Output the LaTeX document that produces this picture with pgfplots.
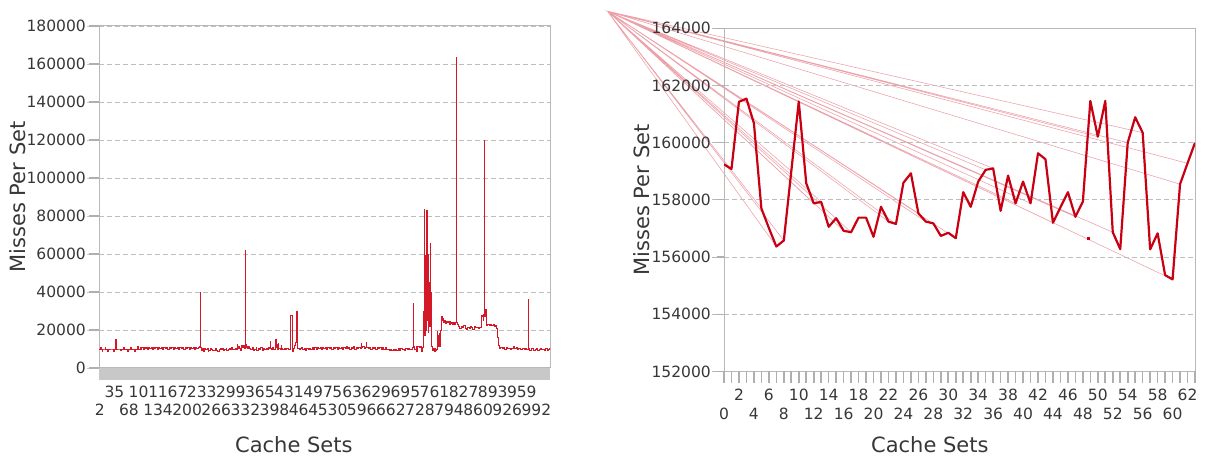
\documentclass[border=0pt]{standalone}
\usepackage{pgfplots}
\pgfplotsset{compat=1.18}
\usepackage{fontspec}
\setmainfont{DejaVu Sans}
\definecolor{txt}{RGB}{55,55,55}
\definecolor{ln}{RGB}{200,0,18}
\definecolor{lnl}{RGB}{212,24,40}
\definecolor{fan}{RGB}{236,160,168}
\definecolor{grd}{RGB}{190,190,190}
\definecolor{axc}{RGB}{185,185,185}
\definecolor{tk}{RGB}{175,175,175}
\definecolor{band}{RGB}{200,200,200}
\newcommand{\U}[1]{\begin{tabular}{@{}c@{}}#1\\\strut\end{tabular}}
\newcommand{\D}[1]{\begin{tabular}{@{}c@{}}\strut\\#1\end{tabular}}
\begin{document}
\begin{tikzpicture}
\useasboundingbox (0pt,0pt) rectangle (1209pt,457pt);
\pgfplotsset{common/.style={scale only axis, anchor=south west,
  /pgf/number format/fixed,
  /pgf/number format/precision=0,
  /pgf/number format/assume math mode=true,
  /pgf/number format/set thousands separator={},
  scaled y ticks=false, ymajorgrids,
  grid style={grd, dash pattern=on 5pt off 3pt, line width=0.8pt},
  axis line style={axc, line width=1pt},
  tick style={axc, line width=0.8pt},
  tick align=outside, major tick length=12pt, minor tick length=12pt,
  xtick pos=bottom, ytick pos=left,
  tick label style={font=\fontsize{15.5}{18.6}\selectfont, txt},
  xticklabel style={anchor=north, inner sep=0pt, yshift=-4pt},
  yticklabel style={anchor=east, inner sep=1pt},
  label style={font=\fontsize{21}{25}\selectfont, txt},
  xlabel={Cache Sets}, ylabel={Misses Per Set}},
  tickhelper/.style={scale only axis, anchor=south west, hide axis, clip=false}}
% ---------------- left panel ----------------
\begin{axis}[common, at={(99pt,89pt)}, width=451pt, height=342pt,
  xmin=0, xmax=1023, ymin=0, ymax=180000,
  tick style={band, line width=0.45pt},
  ytick={0,20000,40000,60000,80000,100000,120000,140000,160000,180000},
  xtick={2,35,68,101,134,167,200,233,266,299,332,365,398,431,464,497,530,563,596,629,662,695,728,761,794,827,860,893,926,959,992},
  xticklabels={\D{2},\U{35},\D{68},\U{101},\D{134},\U{167},\D{200},\U{233},\D{266},\U{299},\D{332},\U{365},\D{398},\U{431},\D{464},\U{497},\D{530},\U{563},\D{596},\U{629},\D{662},\U{695},\D{728},\U{761},\D{794},\U{827},\D{860},\U{893},\D{926},\U{959},\D{992}},
  minor xtick={0,2,...,1022},
  xlabel style={at={(axis description cs:0.432,-0.225)}, anchor=center},
  ylabel style={at={(axis description cs:-0.18,0.5)}, anchor=center}]
\addplot[const plot, lnl, line width=0.75pt] table {
0 10000
4 10700
5 10000
7 9000
8 10000
12 10000
14 10700
15 10000
20 9000
22 10000
30 10000
33 9000
35 10000
37 12000
38 15300
39 13000
40 10000
47 10000
49 9200
51 10000
56 10700
57 10000
65 9000
66 10000
72 11000
73 10000
81 9000
83 10000
88 11200
90 10000
93 10800
95 10000
97 10800
100 10000
102 10800
105 10300
107 10900
110 10000
112 10800
115 10400
118 10800
121 10000
124 10800
126 10300
129 10900
132 10000
135 10800
138 10200
141 10800
144 10000
147 10800
150 10200
153 10900
156 10000
159 10800
162 10200
165 10800
168 10000
171 10800
174 10300
177 10800
180 10000
183 10900
186 10200
189 10800
192 10000
195 10800
198 10300
201 10800
204 10000
207 10800
210 10200
213 10900
216 10000
219 10800
222 10300
225 10800
228 11200
230 40000
231 10700
233 9200
235 10400
237 9000
239 10300
242 9600
245 10500
247 9000
249 9500
252 10300
255 9600
258 9200
261 9500
264 10400
266 9500
269 9000
272 9800
275 10300
277 9600
280 10500
283 9300
285 9600
288 10500
290 9500
293 10000
295 10500
298 9600
301 11000
303 10000
306 9600
309 10500
311 9800
314 12200
315 10300
317 11500
319 10500
321 9500
324 12000
325 10800
327 11800
329 10500
331 62000
332 11000
334 12500
335 11200
337 10300
339 11500
341 10400
344 9600
347 10800
350 9400
353 10000
356 10700
358 9500
361 10400
364 10000
367 10600
370 9500
373 10100
376 9800
379 10400
382 9600
385 11000
387 10200
388 14200
389 10500
391 9600
394 11000
396 10000
399 12500
400 10800
401 15300
402 10600
404 12500
405 10000
407 13000
408 10500
411 9800
413 11800
414 10200
417 9800
420 10300
423 9900
426 10100
429 9900
432 9600
434 27900
438 9000
440 8600
442 10200
444 12000
446 13500
447 20000
448 30000
449 13800
451 10500
454 9800
456 10400
459 10800
462 9600
465 10500
468 9300
471 10200
474 9700
477 10400
480 9900
483 10700
486 10000
489 10800
492 10000
495 10800
498 10100
501 10800
504 10000
507 10900
510 10200
513 10800
516 10000
519 10900
522 10300
525 10800
528 10000
531 10900
534 10200
537 10800
540 10000
543 10900
546 10300
549 10800
552 10000
555 10900
558 10200
561 11300
563 10100
566 10800
569 10000
572 10900
575 10300
578 11400
580 10000
583 10900
586 10200
589 10800
592 10500
594 13000
595 10800
598 11200
601 10300
604 10900
606 13300
607 10800
610 10200
613 10800
616 10000
619 10800
622 10200
625 10800
628 10000
631 10800
634 10200
637 10800
640 10000
643 10700
646 9800
649 10600
652 9900
655 10000
658 9500
661 10000
664 9500
667 10000
670 9200
672 10000
675 9500
678 10300
681 9500
684 10400
687 9700
690 10000
693 9500
696 10300
699 9800
702 10400
705 9600
708 10000
711 10800
712 34200
713 11200
716 10000
719 11500
721 9000
723 11200
726 10800
729 11200
731 9100
732 8600
734 11000
735 29600
736 20000
737 83700
738 40000
739 17400
740 59500
742 20000
743 83000
744 25000
745 60000
746 19000
747 58600
748 30000
749 45000
750 22000
751 65600
752 40000
753 20000
754 11200
756 9500
758 10400
760 8800
762 10200
764 9500
766 10000
767 19100
768 13000
769 17000
770 11500
771 18000
772 12000
773 11200
775 20000
777 27400
778 25300
780 26000
782 24000
784 25000
786 23500
788 24500
790 23800
792 24800
794 23200
796 24500
798 23500
800 24200
802 22800
804 23800
806 23000
808 24000
810 163400
811 23800
813 23000
815 22000
818 21000
821 22000
824 21200
827 22200
830 21000
833 20500
836 21500
839 20800
842 21800
845 21200
848 20500
851 21800
854 21300
857 21600
860 20800
863 21500
866 21200
868 27900
870 27000
871 25000
872 28000
873 120000
874 28500
875 27000
877 30900
878 24000
879 22600
882 23200
885 22400
888 23000
891 22200
894 22800
897 22000
900 22600
902 21000
904 16000
906 12000
908 10500
911 11000
914 10300
917 10700
920 10000
923 10600
926 10200
929 10400
932 9800
935 10500
938 10200
941 11200
943 10300
946 10600
949 9900
952 10300
955 9600
958 10000
961 10500
964 9800
967 10200
970 10000
973 36300
974 10500
977 9500
980 10500
983 10200
986 9500
989 10000
992 10400
995 9300
998 10000
1001 10300
1004 9600
1007 10000
1010 9500
1013 10200
1016 9400
1019 10000
1022 10500
1023 10500
};
\end{axis}
% left panel: y tick marks
\begin{axis}[tickhelper, at={(99pt,89pt)}, width=451pt, height=342pt,
  xmin=0, xmax=451, ymin=0, ymax=9]
\addplot[xcomb, tk, line width=1.2pt, mark=none] table {
-10 0
-10 1
-10 2
-10 3
-10 4
-10 5
-10 6
-10 7
-10 8
-10 9
};
\end{axis}
% ---------------- right panel: rendering artefact fan ----------------
\begin{axis}[tickhelper, at={(724pt,85.5pt)},
  width=471pt, height=343.2pt, xmin=0, xmax=63, ymin=152000, ymax=164000]
\addplot[fan, line width=0.55pt] table {
-15.6 164600
5 157700
-15.6 164600
7 156370
-15.6 164600
8 156580
-15.6 164600
9 159000
-15.6 164600
12 157880
-15.6 164600
13 157930
-15.6 164600
16 156920
-15.6 164600
17 156870
-15.6 164600
22 157240
-15.6 164600
23 157160
-15.6 164600
26 157530
-15.6 164600
27 157240
-15.6 164600
31 156660
-15.6 164600
35 159050
-15.6 164600
36 159100
-15.6 164600
39 157880
-15.6 164600
41 157880
-15.6 164600
44 157200
-15.6 164600
47 157410
-15.6 164600
50 160210
-15.6 164600
52 156870
-15.6 164600
54 160000
-15.6 164600
56 160350
-15.6 164600
60 155220
-15.6 164600
61 158550
-15.6 164600
62 159280
};
\end{axis}
% ---------------- right panel ----------------
\begin{axis}[common, at={(724pt,85.5pt)}, width=471pt, height=343.2pt,
  xmin=0, xmax=63, ymin=152000, ymax=164000,
  ytick={152000,154000,156000,158000,160000,162000,164000},
  xtick={0,2,...,62},
  xticklabels={\D{0},\U{2},\D{4},\U{6},\D{8},\U{10},\D{12},\U{14},\D{16},\U{18},\D{20},\U{22},\D{24},\U{26},\D{28},\U{30},\D{32},\U{34},\D{36},\U{38},\D{40},\U{42},\D{44},\U{46},\D{48},\U{50},\D{52},\U{54},\D{56},\U{58},\D{60},\U{62}},
  xlabel style={at={(axis description cs:0.437,-0.214)}, anchor=center},
  ylabel style={at={(axis description cs:-0.174,0.5)}, anchor=center}]
\addplot[ln, line width=2.2pt, line join=round] table {
0 159245
1 159080
2 161430
3 161540
4 160680
5 157700
6 157020
7 156370
8 156580
9 159000
10 161440
11 158580
12 157880
13 157930
14 157060
15 157360
16 156920
17 156870
18 157380
19 157380
20 156710
21 157760
22 157240
23 157160
24 158600
25 158930
26 157530
27 157240
28 157180
29 156740
30 156850
31 156660
32 158270
33 157760
34 158640
35 159050
36 159100
37 157620
38 158850
39 157880
40 158640
41 157880
42 159630
43 159420
44 157200
45 157740
46 158270
47 157410
48 157940
49 161460
50 160210
51 161460
52 156870
53 156280
54 160000
55 160890
56 160350
57 156270
58 156830
59 155370
60 155220
61 158550
62 159280
63 160000
};
\addplot[ln, only marks, mark=square*, mark size=1.3pt] coordinates {(48.7,156660)};
\end{axis}
% right panel: x tick marks (one per cache set)
\begin{axis}[tickhelper, at={(724pt,85.5pt)}, width=471pt, height=343.2pt,
  xmin=0, xmax=63, ymin=0, ymax=343.2]
\addplot[ycomb, tk, line width=1.6pt, mark=none] table {
0 -12
1 -12
2 -12
3 -12
4 -12
5 -12
6 -12
7 -12
8 -12
9 -12
10 -12
11 -12
12 -12
13 -12
14 -12
15 -12
16 -12
17 -12
18 -12
19 -12
20 -12
21 -12
22 -12
23 -12
24 -12
25 -12
26 -12
27 -12
28 -12
29 -12
30 -12
31 -12
32 -12
33 -12
34 -12
35 -12
36 -12
37 -12
38 -12
39 -12
40 -12
41 -12
42 -12
43 -12
44 -12
45 -12
46 -12
47 -12
48 -12
49 -12
50 -12
51 -12
52 -12
53 -12
54 -12
55 -12
56 -12
57 -12
58 -12
59 -12
60 -12
61 -12
62 -12
63 -12
};
\end{axis}
% right panel: y tick marks
\begin{axis}[tickhelper, at={(724pt,85.5pt)}, width=471pt, height=343.2pt,
  xmin=0, xmax=471, ymin=0, ymax=6]
\addplot[xcomb, tk, line width=1.2pt, mark=none] table {
-7 0
-7 1
-7 2
-7 3
-7 4
-7 5
-7 6
};
\end{axis}
\end{tikzpicture}
\end{document}
